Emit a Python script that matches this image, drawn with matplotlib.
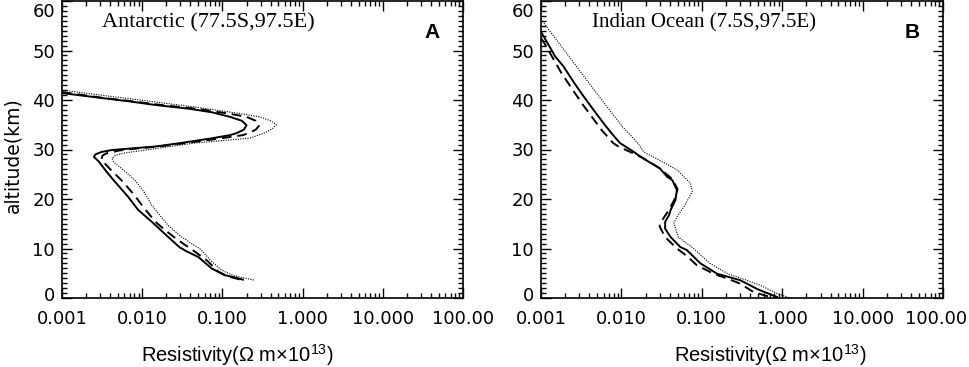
import numpy as np
import matplotlib
matplotlib.use("Agg")
import matplotlib.pyplot as plt
from matplotlib.ticker import NullFormatter, MultipleLocator, LogLocator
from matplotlib.transforms import ScaledTranslation

# ---------------- data (altitude km, resistivity x1e13 Ohm m) ----------------
a_sol_alt = [41.4, 40.5, 39.7, 39.0, 38.2, 37.5, 36.6, 35.8, 34.9, 34.0, 33.3, 32.9, 32.2, 31.3, 30.6,
             30.2, 29.9, 29.5, 29.0, 28.5, 28.0, 27.5, 25.5, 23.8, 22.0, 20.4, 17.8, 15.1, 13.0, 11.5,
             10.2, 9.9, 9.5, 8.3, 6.0, 4.6, 4.2, 3.7]
a_sol_res = [0.001, 0.0028, 0.0071, 0.0145, 0.040, 0.075, 0.124, 0.175, 0.20, 0.185, 0.15, 0.124, 0.07,
             0.030, 0.0145, 0.0071, 0.0042, 0.0031, 0.0026, 0.0025, 0.0027, 0.0029, 0.0036, 0.0044,
             0.0055, 0.0067, 0.0089, 0.0138, 0.019, 0.024, 0.0295, 0.032, 0.035, 0.050, 0.073, 0.107,
             0.14, 0.18]

a_dash_alt = [41.6, 40.5, 39.7, 39.0, 38.2, 37.3, 36.6, 35.8, 34.9, 34.0, 33.3, 32.9, 32.2, 31.3, 30.6,
              30.2, 29.8, 29.3, 28.8, 27.9, 26.0, 23.8, 21.0, 18.4, 15.4, 13.5, 11.7, 9.3, 7.5, 5.3,
              4.3, 3.7]
a_dash_res = [0.001, 0.0030, 0.0078, 0.017, 0.050, 0.115, 0.20, 0.26, 0.29, 0.26, 0.21, 0.18, 0.09,
              0.035, 0.016, 0.0085, 0.0052, 0.0037, 0.0032, 0.0031, 0.0040, 0.0055, 0.0078, 0.0103,
              0.0146, 0.020, 0.028, 0.046, 0.065, 0.089, 0.12, 0.17]

a_dot_alt = [42.0, 41.0, 40.2, 39.4, 38.6, 38.0, 37.3, 36.6, 35.8, 35.0, 34.2, 33.3, 32.3, 31.8, 31.3,
             30.5, 29.8, 29.3, 28.8, 28.2, 27.5, 25.5, 23.8, 21.5, 18.8, 16.5, 14.7, 12.5, 10.5, 10.0,
             9.5, 7.5, 5.6, 4.5, 3.6]
a_dot_res = [0.001, 0.0030, 0.0075, 0.018, 0.045, 0.080, 0.16, 0.29, 0.40, 0.47, 0.42, 0.33, 0.22,
             0.10, 0.045, 0.020, 0.010, 0.0060, 0.0046, 0.0042, 0.0044, 0.0062, 0.0081, 0.0105,
             0.0131, 0.017, 0.021, 0.030, 0.046, 0.052, 0.056, 0.072, 0.098, 0.14, 0.25]

b_sol_alt = [53.8, 48.8, 46.8, 43.4, 40.7, 38.0, 35.0, 33.0, 31.3, 29.6, 28.2, 26.2, 24.5, 23.8, 21.8,
             19.8, 17.8, 16.7, 15.4, 14.0, 12.3, 10.3, 9.7, 7.0, 4.9, 3.6, 1.8, 0.2]
b_sol_res = [0.001, 0.0015, 0.0019, 0.0026, 0.0034, 0.0045, 0.0062, 0.0078, 0.0096, 0.0140, 0.0186,
             0.030, 0.037, 0.043, 0.049, 0.047, 0.041, 0.039, 0.035, 0.035, 0.041, 0.054, 0.065,
             0.096, 0.155, 0.30, 0.49, 0.86]

b_dash_alt = [52.5, 51.5, 45.4, 39.4, 33.9, 31.3, 30.6, 29.0, 28.2, 26.2, 24.0, 22.0, 20.0, 17.8, 16.0,
              15.1, 14.4, 12.3, 10.0, 8.5, 6.6, 4.9, 3.9, 2.9, 1.2, 0.2]
b_dash_res = [0.001, 0.0011, 0.0018, 0.0032, 0.0057, 0.0079, 0.0092, 0.015, 0.019, 0.030, 0.043,
              0.050, 0.046, 0.039, 0.033, 0.030, 0.030, 0.035, 0.049, 0.065, 0.087, 0.14, 0.21,
              0.30, 0.44, 0.71]

b_dot_alt = [56.3, 50.8, 45.4, 40.0, 34.6, 31.3, 29.5, 28.2, 25.9, 23.2, 21.5, 18.8, 16.4, 15.1, 12.3,
             10.0, 7.0, 4.9, 3.6, 2.6, 0.9, 0.0]
b_dot_res = [0.001, 0.0018, 0.0032, 0.0057, 0.0103, 0.016, 0.019, 0.027, 0.049, 0.072, 0.076, 0.062,
             0.049, 0.045, 0.051, 0.079, 0.126, 0.21, 0.36, 0.53, 0.86, 1.26]

xtick_vals = [0.001, 0.01, 0.1, 1, 10, 100]
xtick_labels = ["0.001", "0.010", "0.100", "1.000", "10.000", "100.00"]
ytick_vals = [0, 10, 20, 30, 40, 50, 60]

titles = ["Antarctic (77.5S,97.5E)", "Indian Ocean (7.5S,97.5E)"]
letters = ["A", "B"]
xlabel = r"Resistivity($\Omega$ m$\times$10$^{13}$)"
ylabel = "altitude(km)"

# ---------------- figure ----------------
plt.rcParams['mathtext.fontset'] = 'custom'
plt.rcParams['mathtext.rm'] = 'Liberation Sans'
plt.rcParams['mathtext.it'] = 'Liberation Sans'
plt.rcParams['mathtext.bf'] = 'Liberation Sans:bold'

W, H = 969, 367
fig = plt.figure(figsize=(W / 100, H / 100), dpi=100)

axA = fig.add_axes([62 / W, 1 - 298 / H, 401 / W, 297 / H])
axB = fig.add_axes([541 / W, 1 - 298 / H, 402 / W, 297 / H])

panels = [
    (axA, (a_sol_res, a_sol_alt), (a_dash_res, a_dash_alt), (a_dot_res, a_dot_alt)),
    (axB, (b_sol_res, b_sol_alt), (b_dash_res, b_dash_alt), (b_dot_res, b_dot_alt)),
]

title_x = [0.099, 0.126]
title_fs = [16, 15]
for i, (ax, sol, dash, dot) in enumerate(panels):
    ax.plot(sol[0], sol[1], color='black', lw=1.4, ls='-', solid_joinstyle='round')
    ax.plot(dash[0], dash[1], color='black', lw=1.4, ls=(0, (5, 3)))
    ax.plot(dot[0], dot[1], color='black', lw=0.8, ls=(0, (1, 1.2)))
    ax.set_xscale('log')
    ax.set_xlim(0.001, 100)
    ax.set_ylim(0, 60)
    ax.set_xticks(xtick_vals)
    ax.set_xticklabels(xtick_labels)
    ax.xaxis.set_minor_locator(LogLocator(base=10, subs=np.arange(2, 10), numticks=20))
    ax.xaxis.set_minor_formatter(NullFormatter())
    ax.set_yticks(ytick_vals)
    ax.yaxis.set_minor_locator(MultipleLocator(1))
    ax.tick_params(which='both', direction='in', top=True, right=True, labelsize=13,
                   width=1.0)
    ax.tick_params(which='major', length=7)
    ax.tick_params(which='minor', length=3.5)
    ax.tick_params(axis='x', which='major', pad=9)
    ax.tick_params(axis='y', which='major', pad=5)
    for sp in ax.spines.values():
        sp.set_linewidth(1.2)
    ylabs = ax.get_yticklabels()
    ylabs[-1].set_va('top')
    ylabs[-1].set_transform(ylabs[-1].get_transform() + ScaledTranslation(0, -2 / 100, fig.dpi_scale_trans))
    ylabs[0].set_transform(ylabs[0].get_transform() + ScaledTranslation(0, 4 / 100, fig.dpi_scale_trans))
    ax.text(title_x[i], 0.926, titles[i], transform=ax.transAxes, ha='left', va='center',
            fontsize=title_fs[i], family='Liberation Serif')
    ax.text(0.923, 0.895, letters[i], transform=ax.transAxes, ha='center', va='center',
            fontsize=15, fontweight='bold', family='Liberation Sans')

xl = axB.get_xticklabels()[-1]
xl.set_transform(xl.get_transform() + ScaledTranslation(-7 / 100, 0, fig.dpi_scale_trans))

fig.text(237 / W, 1 - 355 / H, xlabel, ha='center', va='center', fontsize=14.5,
         family='Liberation Sans')
fig.text(770 / W, 1 - 355 / H, xlabel, ha='center', va='center', fontsize=14.5,
         family='Liberation Sans')
fig.text(13 / W, 1 - 155 / H, ylabel, ha='center', va='center', fontsize=13.5, rotation=90)

fig.savefig("out.png", dpi=100)
